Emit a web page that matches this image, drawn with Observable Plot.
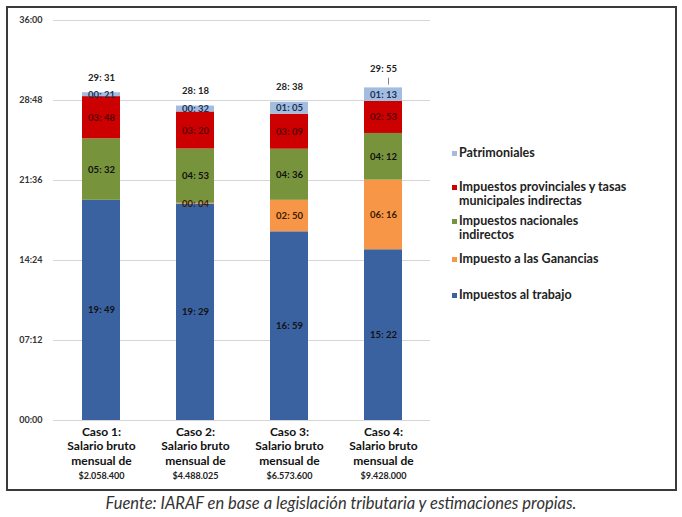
<!DOCTYPE html>
<html>
<head>
<meta charset="utf-8">
<script src="https://cdn.jsdelivr.net/npm/d3@7"></script>
<script src="https://cdn.jsdelivr.net/npm/@observablehq/plot@0.6"></script>
<style>
  html, body { margin: 0; padding: 0; background: #fff; }
  #wrap { position: relative; width: 682px; height: 517px; overflow: hidden; }
  #frame { position: absolute; left: 6px; top: 6px; width: 667px; height: 481px; border: 2px solid #3a3a3a; box-sizing: content-box; pointer-events: none; }
  #chart { position: absolute; left: 0; top: 0; }
  #legend { position: absolute; left: 452px; top: 0; font-family: Lato, "Open Sans", sans-serif; font-weight: 700; font-size: 12.5px; color: #222; }
  .item { position: absolute; left: 0; width: 225px; line-height: 14px; white-space: nowrap; }
  .sw { position: absolute; left: 0; top: 5px; width: 5px; height: 5px; }
  .lab { position: absolute; left: 7px; top: 0; }
  #caption { position: absolute; left: 0; width: 682px; top: 493px; text-align: center; font-family: Lato, "Open Sans", sans-serif; font-style: italic; font-size: 16.5px; color: #333; }
</style>
</head>
<body>
<div id="wrap">
  <div id="chart"></div>
  <div id="legend"></div>
  <div id="frame"></div>
  <div id="caption">Fuente: IARAF en base a legislación tributaria y estimaciones propias.</div>
</div>
<script>
// ---- data (values as "hh:mm") ----
const cases = ["Caso 1", "Caso 2", "Caso 3", "Caso 4"];
const caseTitles = ["Caso 1:", "Caso 2:", "Caso 3:", "Caso 4:"];
const salaries = ["$2.058.400", "$4.488.025", "$6.573.600", "$9.428.000"];
const totals = ["29:31", "28:18", "28:38", "29:55"];

const series = ["Impuestos al trabajo", "Impuesto a las Ganancias", "Impuestos nacionales indirectos", "Impuestos provinciales y tasas municipales indirectas", "Patrimoniales"];
const trabajo = ["19:49", "19:29", "16:59", "15:22"];
const ganancias = ["00:00", "00:04", "02:50", "06:16"];
const nacionales = ["05:32", "04:53", "04:36", "04:12"];
const provinciales = ["03:48", "03:20", "03:09", "02:53"];
const patrimoniales = ["00:21", "00:32", "01:05", "01:13"];
const colors = ["#3b62a0", "#f79646", "#77933c", "#cc0000", "#a3bde0"];
const labelColors = ["#111111", "#3a1a00", "#111111", "#5a0000", "#1d2f55"];
const yTicks = ["00:00", "07:12", "14:24", "21:36", "28:48", "36:00"];

const toMin = s => { const [h, m] = s.split(":").map(Number); return h * 60 + m; };

const seriesValues = [trabajo, ganancias, nacionales, provinciales, patrimoniales];
const rows = [];
cases.forEach((c, i) => {
  let base = 0;
  seriesValues.forEach((vals, s) => {
    const v = toMin(vals[i]);
    rows.push({ caso: c, serie: series[s], s, v, y1: base, y2: base + v, label: vals[i].replace(":", ": ") });
    base += v;
  });
});
const labelRows = rows.filter(d => d.v > 0);
const totalRows = cases.map((c, i) => ({ caso: c, text: totals[i].replace(":", ": "), top: rows.filter(d => d.caso === c).reduce((a, d) => a + d.v, 0) }));
const axisRows = cases.map((c, i) => ({ caso: c, title: caseTitles[i] + "\nSalario bruto\nmensual de", salary: salaries[i] }));

const chart = Plot.plot({
  width: 682,
  height: 490,
  marginLeft: 53,
  marginRight: 252,
  marginTop: 20,
  marginBottom: 70,
  style: { fontFamily: "Lato, 'Open Sans', sans-serif", background: "transparent" },
  x: { domain: cases, paddingInner: 0.6, paddingOuter: 0.3, axis: null },
  y: { domain: [0, 2160], axis: null },
  color: { domain: series, range: colors },
  marks: [
    Plot.ruleY(yTicks.map(toMin), { stroke: "#d6d6d6", strokeWidth: 1 }),
    Plot.rectY(rows, { x: "caso", y1: "y1", y2: "y2", fill: "serie" }),
    Plot.text(labelRows, { x: "caso", y: d => (d.y1 + d.y2) / 2, text: "label", fontSize: 9.5, fontWeight: "bold", fill: d => labelColors[d.s] }),
    Plot.text(totalRows.slice(0, 3), { x: "caso", y: "top", text: "text", dy: -15, fontSize: 9.5, fontWeight: "bold", fill: "#222" }),
    Plot.text(totalRows.slice(3), { x: "caso", y: "top", text: "text", dy: -19, fontSize: 9.5, fontWeight: "bold", fill: "#222" }),
    Plot.link(totalRows.slice(3), { x1: "caso", x2: "caso", y1: d => d.top + 18, y2: d => d.top + 55, dx: 5, stroke: "#666", strokeWidth: 0.8 }),
    Plot.text(axisRows, { x: "caso", y: () => 0, text: "title", lineAnchor: "top", dy: 5, fontSize: 12, fontWeight: "bold", lineHeight: 1.2, letterSpacing: 0.3, fill: "#111" }),
    Plot.text(axisRows, { x: "caso", y: () => 0, text: "salary", lineAnchor: "top", dy: 52, fontSize: 9, fontWeight: "bold", fill: "#222", letterSpacing: 0.5 })
  ]
});
document.getElementById("chart").appendChild(chart);

const yLab = Plot.plot({
  width: 53, height: 490, marginLeft: 0, marginRight: 0, marginTop: 20, marginBottom: 70,
  style: { fontFamily: "Lato, 'Open Sans', sans-serif", background: "transparent", position: "absolute", left: "0px", top: "0px" },
  x: { domain: [0, 1], axis: null },
  y: { domain: [0, 2160], axis: null },
  marks: [
    Plot.text(yTicks, { x: () => 1, y: d => toMin(d), text: d => d, textAnchor: "end", dx: -11, fontSize: 9, fontWeight: "bold", fill: "#333", letterSpacing: 0.3 })
  ]
});
document.getElementById("wrap").appendChild(yLab);

// legend
const legendTops = [288, 252, 214, 180, 146];
const legendText = ["Impuestos al trabajo", "Impuesto a las Ganancias", "Impuestos nacionales<br>indirectos", "Impuestos provinciales y tasas<br>municipales indirectas", "Patrimoniales"];
const leg = document.getElementById("legend");
[4, 3, 2, 1, 0].forEach(s => {
  const div = document.createElement("div");
  div.className = "item";
  div.style.top = legendTops[s] + "px";
  div.innerHTML = `<span class="sw" style="background:${colors[s]}"></span><span class="lab">${legendText[s]}</span>`;
  leg.appendChild(div);
});
</script>
</body>
</html>
